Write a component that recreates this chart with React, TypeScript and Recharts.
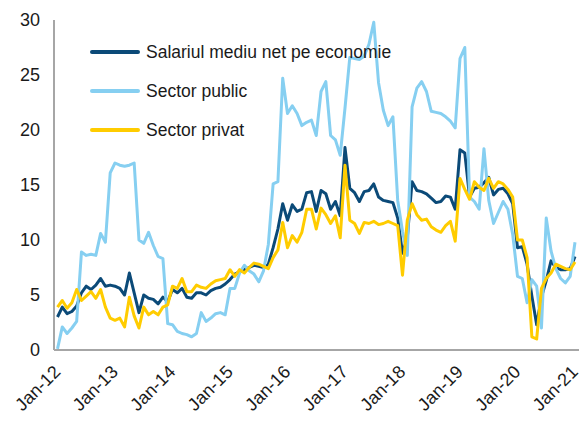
import React from 'react';
import { LineChart, Line, XAxis, YAxis } from 'recharts';

const MONTHS = ['Jan', 'Feb', 'Mar', 'Apr', 'May', 'Jun', 'Jul', 'Aug', 'Sep', 'Oct', 'Nov', 'Dec'];
const YEARS = ['12', '13', '14', '15', '16', '17', '18', '19', '20'];
const CATEGORIES = [...YEARS.flatMap((y) => MONTHS.map((m) => `${m}-${y}`)), 'Jan-21'];
const TICK_LABELS = ['Jan-12', 'Jan-13', 'Jan-14', 'Jan-15', 'Jan-16', 'Jan-17', 'Jan-18', 'Jan-19', 'Jan-20', 'Jan-21'];
const Y_TICKS = [0, 5, 10, 15, 20, 25, 30];

// Salariul mediu net pe economie
const ECONOMIE = [
  3.0, 3.9, 3.3, 3.5, 4.0, 5.2, 5.8, 5.5, 5.9, 6.5, 5.8, 5.9,
  5.8, 5.6, 5.0, 7.0, 5.2, 3.4, 5.0, 4.7, 4.6, 4.2, 4.8, 4.4,
  5.5, 5.2, 5.6, 4.8, 4.7, 5.2, 5.2, 5.0, 5.4, 5.6, 5.7, 6.0,
  6.4, 6.9, 7.1, 7.3, 7.5, 7.7, 7.6, 7.5, 7.8, 9.3, 11.0, 13.3,
  11.8, 13.2, 12.6, 12.8, 14.3, 14.4, 12.6, 14.5, 14.2, 12.8, 13.5, 12.2,
  18.4, 14.7, 14.3, 13.5, 14.4, 14.5, 15.1, 13.9, 13.6, 13.5, 13.4, 12.0,
  8.8, 10.2, 15.3, 14.5, 14.4, 14.2, 13.8, 13.4, 13.5, 14.0, 13.9, 12.8,
  18.2, 17.9, 13.9, 14.7, 14.8, 15.2, 15.7, 14.1, 14.6, 14.7, 14.2, 13.3,
  9.3, 9.4, 7.8, 4.9, 2.3, 4.8, 6.3, 8.1, 7.5, 7.3, 7.3, 7.4,
  8.5,
];

// Sector public
const PUBLIC = [
  0.1, 2.1, 1.5, 2.0, 2.6, 8.9, 8.6, 8.7, 8.6, 10.6, 9.8, 16.1,
  17.0, 16.8, 16.7, 16.8, 17.0, 10.0, 9.7, 10.7, 9.5, 8.5, 8.3, 2.4,
  2.3, 1.7, 1.5, 1.4, 1.2, 1.5, 3.4, 2.6, 2.9, 3.3, 3.4, 3.2,
  5.6, 5.6, 7.0, 7.7, 7.2, 6.9, 6.2, 7.2, 9.6, 15.1, 15.3, 24.7,
  21.5, 22.2, 21.5, 20.4, 20.7, 20.9, 19.5, 23.5, 24.4, 19.5, 19.1, 17.7,
  22.0, 26.6, 26.5, 26.4, 26.7, 27.8, 29.8, 24.3, 21.8, 20.4, 21.2, 13.6,
  10.8, 8.6, 22.1, 23.8, 24.4, 23.5, 21.7, 21.6, 21.5, 21.2, 20.8, 20.2,
  26.5, 27.5, 13.9, 13.5, 12.8, 18.3, 13.6, 11.5, 12.5, 13.5, 12.8, 10.5,
  6.7, 6.5, 4.3, 6.4, 5.8, 2.0, 12.0, 9.0, 7.4, 6.5, 6.1, 6.7,
  9.8,
];

// Sector privat
const PRIVAT = [
  3.9, 4.5, 3.8, 4.3, 5.5, 4.5, 4.9, 5.3, 4.7, 5.5, 3.9, 2.9,
  2.7, 2.9, 2.1, 4.8, 3.1, 2.0, 3.9, 3.2, 3.5, 3.2, 3.9, 4.1,
  5.8, 5.6, 6.5, 5.3, 5.3, 5.9, 5.7, 5.6, 6.0, 6.3, 6.4, 6.5,
  7.3, 6.7, 7.3, 7.0, 7.5, 7.9, 7.8, 7.6, 7.4, 8.4, 9.1, 11.6,
  9.3, 10.4, 9.8, 10.7, 12.8, 12.8, 11.0, 12.9, 12.3, 11.5, 12.2, 10.2,
  16.8, 11.8, 11.5, 10.6, 11.6, 11.5, 11.7, 11.4, 11.5, 11.7, 11.5, 11.3,
  6.8, 11.8, 13.3, 12.3, 11.8, 11.9, 11.2, 10.9, 10.7, 11.3, 11.7, 9.9,
  15.6, 14.6, 13.7, 15.3, 14.8, 14.5, 15.6, 14.7, 15.3, 15.1, 14.6, 13.9,
  10.0, 10.0, 8.4, 1.2, 1.0, 5.6, 6.5, 7.0, 7.8, 7.6, 7.4, 7.3,
  8.0,
];

const SERIES = [
  { key: 'economie', name: 'Salariul mediu net pe economie', color: '#0b4a78' },
  { key: 'public', name: 'Sector public', color: '#86cff1' },
  { key: 'privat', name: 'Sector privat', color: '#ffcc00' },
];

const data = CATEGORIES.map((month, i) => ({
  month,
  economie: ECONOMIE[i],
  public: PUBLIC[i],
  privat: PRIVAT[i],
}));

const FONT = '"Liberation Sans", Arial, sans-serif';
const AXIS = { stroke: '#a6a6a6', strokeWidth: 2 };

const AngledTick = ({ x, y, payload }: any) => {
  const px = x + 4;
  const py = y + 23;
  return (
    <text
      x={px}
      y={py}
      textAnchor="end"
      transform={`rotate(-45, ${px}, ${py})`}
      fontSize={18}
      fontFamily={FONT}
      fill="#1a1a1a"
    >
      {payload.value}
    </text>
  );
};

export default function App() {
  return (
    <div style={{ position: 'relative', width: 579, height: 421, fontFamily: FONT, background: '#fff' }}>
      <style>{'body{margin:0}'}</style>
      <LineChart width={579} height={421} data={data} margin={{ top: 20, right: 0, bottom: 0, left: 0 }}>
        <XAxis
          dataKey="month"
          ticks={TICK_LABELS}
          interval={0}
          tickLine={false}
          tickSize={0}
          tickMargin={0}
          height={71}
          padding={{ left: 3.5, right: 4 }}
          axisLine={AXIS}
          tick={(props: any) => <AngledTick {...props} />}
        />
        <YAxis
          domain={[0, 30]}
          ticks={Y_TICKS}
          width={54}
          tickLine={false}
          tickSize={0}
          tickMargin={14}
          axisLine={AXIS}
          tick={{ fontSize: 18, fill: '#1a1a1a', fontFamily: FONT }}
        />
        {SERIES.map((s) => (
          <Line
            key={s.key}
            type="linear"
            dataKey={s.key}
            name={s.name}
            stroke={s.color}
            strokeWidth={3}
            strokeLinejoin="round"
            dot={false}
            isAnimationActive={false}
          />
        ))}
      </LineChart>
      {SERIES.map((s, i) => (
        <div
          key={s.key}
          style={{
            position: 'absolute',
            left: 90,
            top: 52 + i * 39 - 12,
            height: 24,
            display: 'flex',
            alignItems: 'center',
            whiteSpace: 'nowrap',
          }}
        >
          <span style={{ display: 'inline-block', width: 50, height: 4, background: s.color, borderRadius: 2 }} />
          <span style={{ marginLeft: 6, fontSize: 17.5, color: '#1a1a1a' }}>{s.name}</span>
        </div>
      ))}
    </div>
  );
}
